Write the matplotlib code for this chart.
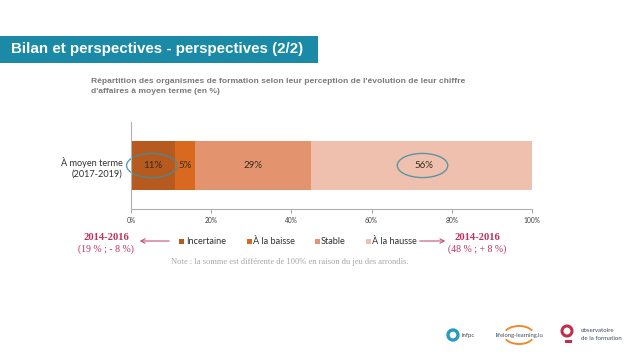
import matplotlib
matplotlib.use("Agg")
import matplotlib.pyplot as plt
from matplotlib.patches import Ellipse, Rectangle, Arc, FancyArrowPatch
import numpy as np

# ---- data ----
category = "À moyen terme\n(2017-2019)"
series = ["Incertaine", "À la baisse", "Stable", "À la hausse"]
values = [11, 5, 29, 56]
labels = ["11%", "5%", "29%", "56%"]
colors = ["#b65a1f", "#d8691f", "#e4936f", "#f0c0ae"]
xticks = [0, 20, 40, 60, 80, 100]
xticklabels = ["0%", "20%", "40%", "60%", "80%", "100%"]
circled = [0, 3]

title = "Bilan et perspectives - perspectives (2/2)"
subtitle = ("Répartition des organismes de formation selon leur perception de l'évolution de leur chiffre\n"
            "d'affaires à moyen terme (en %)")
left_note = ("2014-2016", "(19 % ; - 8 %)")
right_note = ("2014-2016", "(48 % ; + 8 %)")
footnote = "Note : la somme est différente de 100% en raison du jeu des arrondis."

W, H = 638, 359
fig = plt.figure(figsize=(W / 100, H / 100), dpi=100)
fig.patch.set_facecolor("white")

def fx(px):
    return px / W

def fy(py):
    return 1 - py / H

# banner
fig.patches.append(Rectangle((0, fy(63)), fx(318), (63 - 36) / H, transform=fig.transFigure,
                             facecolor="#1a8aa6", edgecolor="none"))
fig.text(fx(11), fy(49.5), title, color="white", fontsize=10.9, fontweight="bold",
         family="Liberation Sans", va="center", ha="left")

# subtitle
fig.text(fx(91), fy(86.5), subtitle, color="#7a7a7a", fontsize=6.1, fontweight="bold",
         family="Liberation Sans", va="center", ha="left", linespacing=1.6)

# axes
ax = fig.add_axes([fx(131), fy(209), (532 - 131) / W, (209 - 122) / H])
left = 0
for v, c, lab in zip(values, colors, labels):
    ax.barh(0, v, left=left, height=1.0, color=c, edgecolor="none")
    ax.text(left + v / 2, 0, lab, ha="center", va="center", fontsize=7,
            family="Lato", color="#3a2a20")
    left += v
ax.set_xlim(0, 100)
ax.set_ylim(-0.9, 0.9)
ax.set_xticks(xticks)
ax.set_xticklabels(xticklabels, fontsize=4.8, family="Lato", color="#404040")
ax.set_yticks([0])
ax.set_yticklabels([category], fontsize=6.6, family="Lato", color="#303030",
                   linespacing=1.35)
ax.tick_params(axis="y", length=0, pad=6)
ax.tick_params(axis="x", length=3, color="#a0a0a0", pad=3, width=0.7)
for s in ["top", "right"]:
    ax.spines[s].set_visible(False)
for s in ["left", "bottom"]:
    ax.spines[s].set_color("#b0b0b0")
    ax.spines[s].set_linewidth(0.8)

# ellipses around highlighted segments
cum = np.concatenate([[0], np.cumsum(values)])
for i in circled:
    cx = (cum[i] + cum[i + 1]) / 2
    e = Ellipse((cx - 0.3, 0), 12.6, 0.5, facecolor="none", edgecolor="#3f8ea3",
                linewidth=1.0, clip_on=False, alpha=0.85)
    ax.add_patch(e)

# legend
leg_y = 241
leg_items = [(179, 186), (247, 253), (315, 321), (366, 372)]
for (sq, tx), c, name in zip(leg_items, colors, series):
    fig.patches.append(Rectangle((fx(sq), fy(leg_y + 2.5)), fx(5), 5 / H,
                                 transform=fig.transFigure, facecolor=c, edgecolor="none"))
    fig.text(fx(tx), fy(leg_y), name, fontsize=6.6, family="Lato", color="#303030",
             va="center", ha="left")

# arrows
acol = "#c4517c"
fig.add_artist(FancyArrowPatch((fx(172), fy(241)), (fx(137), fy(241)),
               transform=fig.transFigure, arrowstyle="->,head_length=3,head_width=1.6",
               color=acol, lw=0.8))
fig.add_artist(FancyArrowPatch((fx(417), fy(241)), (fx(448), fy(241)),
               transform=fig.transFigure, arrowstyle="->,head_length=3,head_width=1.6",
               color=acol, lw=0.8))

ncol = "#c0305c"
for xc, note in [(106, left_note), (477, right_note)]:
    fig.text(fx(xc), fy(237), note[0], fontsize=7.6, fontweight="bold", family="Liberation Serif",
             color=ncol, ha="center", va="center")
    fig.text(fx(xc), fy(249), note[1], fontsize=7.0, family="Liberation Serif",
             color=ncol, ha="center", va="center")

# footnote
fig.text(fx(290), fy(262), footnote, fontsize=6.1, family="Liberation Serif", color="#a8a8a8",
         ha="center", va="center")

# logos (approximate)
def ring(cx, cy, r, col, lw):
    fig.add_artist(Ellipse((fx(cx), fy(cy)), 2 * r / W, 2 * r / H, transform=fig.transFigure,
                           facecolor="none", edgecolor=col, lw=lw))

ring(453, 335, 5, "#2a9bc0", 2.4)
fig.text(fx(462), fy(335), "infpc", fontsize=4.4, family="Lato", color="#404a60",
         va="center", ha="left")
fig.add_artist(Arc((fx(519), fy(335)), 30 / W, 18 / H, theta1=30, theta2=150,
                   transform=fig.transFigure, color="#f08a30", lw=1.4))
fig.add_artist(Arc((fx(519), fy(335)), 30 / W, 18 / H, theta1=210, theta2=330,
                   transform=fig.transFigure, color="#f08a30", lw=1.4))
fig.text(fx(519), fy(335), "lifelong-learning.lu", fontsize=4.2, family="Lato", color="#404a60",
         va="center", ha="center")
ring(567, 331, 5, "#c0304a", 2.2)
fig.patches.append(Rectangle((fx(565), fy(343)), fx(7), 3 / H, transform=fig.transFigure,
                             facecolor="#c0304a", edgecolor="none"))
fig.text(fx(581), fy(330), "observatoire", fontsize=4.4, family="Lato", color="#404a60",
         va="center", ha="left")
fig.text(fx(581), fy(338), "de la formation", fontsize=4.4, family="Lato", color="#404a60",
         va="center", ha="left")

fig.savefig("out.png", dpi=100, facecolor="white")
